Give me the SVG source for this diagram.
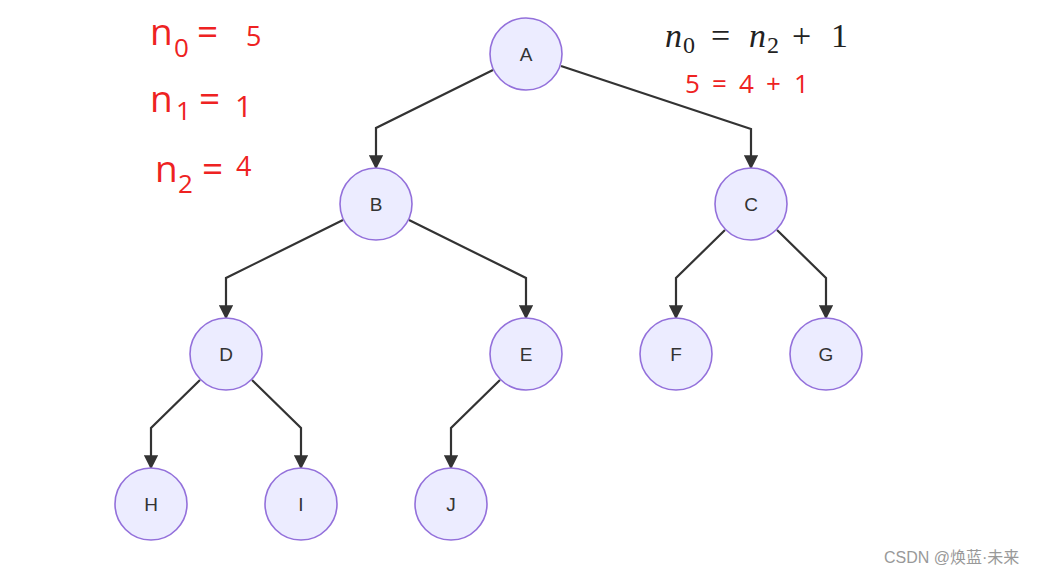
<svg xmlns="http://www.w3.org/2000/svg" width="1063" height="577" viewBox="0 0 1063 577">
<style>
.node circle{fill:#ECECFF;stroke:#9370DB;stroke-width:1.6}
.node text{font-family:"Liberation Sans",Arial,sans-serif;font-size:19px;fill:#333;text-anchor:middle;dominant-baseline:central}
.edge{fill:none;stroke:#333;stroke-width:2.2}
.red{font-family:"Open Sans","Noto Sans",sans-serif;fill:#ee2222}
.math{font-family:"Liberation Serif","Times New Roman",serif;fill:#222}
.wm{font-family:"Liberation Sans","Noto Sans CJK SC",sans-serif;font-size:16px;fill:#999}
</style>
<defs>
<marker id="arr" viewBox="0 0 10 10" refX="9" refY="5" markerWidth="6.5" markerHeight="6.5" markerUnits="strokeWidth" orient="auto">
<path d="M0,0 L10,5 L0,10 z" fill="#333"/>
</marker>
</defs>
<rect width="1063" height="577" fill="#fff"/>
<g id="connectors">
<path class="edge" marker-end="url(#arr)" d="M493,70 L376,128 L376,168"/>
<path class="edge" marker-end="url(#arr)" d="M561,66 L751,129 L751,168"/>
<path class="edge" marker-end="url(#arr)" d="M343,220 L226,278 L226,318"/>
<path class="edge" marker-end="url(#arr)" d="M409,220 L526,278 L526,318"/>
<path class="edge" marker-end="url(#arr)" d="M725,230 L676,278 L676,318"/>
<path class="edge" marker-end="url(#arr)" d="M777,230 L826,278 L826,318"/>
<path class="edge" marker-end="url(#arr)" d="M200,380 L151,428 L151,468"/>
<path class="edge" marker-end="url(#arr)" d="M252,380 L301,428 L301,468"/>
<path class="edge" marker-end="url(#arr)" d="M500,380 L451,428 L451,468"/>
</g>
<g id="A" class="node"><circle cx="526" cy="54" r="36"/><text x="526" y="54">A</text></g>
<g id="B" class="node"><circle cx="376" cy="204" r="36"/><text x="376" y="204">B</text></g>
<g id="C" class="node"><circle cx="751" cy="204" r="36"/><text x="751" y="204">C</text></g>
<g id="D" class="node"><circle cx="226" cy="354" r="36"/><text x="226" y="354">D</text></g>
<g id="E" class="node"><circle cx="526" cy="354" r="36"/><text x="526" y="354">E</text></g>
<g id="F" class="node"><circle cx="676" cy="354" r="36"/><text x="676" y="354">F</text></g>
<g id="G" class="node"><circle cx="826" cy="354" r="36"/><text x="826" y="354">G</text></g>
<g id="H" class="node"><circle cx="151" cy="504" r="36"/><text x="151" y="504">H</text></g>
<g id="I" class="node"><circle cx="301" cy="504" r="36"/><text x="301" y="504">I</text></g>
<g id="J" class="node"><circle cx="451" cy="504" r="36"/><text x="451" y="504">J</text></g>
<g id="labels">
<text class="red" font-size="37"><tspan x="150" y="45">n</tspan><tspan x="174" y="57" font-size="26">0</tspan><tspan x="197" y="45">=</tspan><tspan x="246" y="46" font-size="27">5</tspan></text>
<text class="red" font-size="37"><tspan x="150" y="112">n</tspan><tspan x="176" y="120" font-size="26">1</tspan><tspan x="199" y="112">=</tspan><tspan x="235" y="117" font-size="30">1</tspan></text>
<text class="red" font-size="37"><tspan x="155" y="182">n</tspan><tspan x="178" y="193" font-size="26">2</tspan><tspan x="202" y="182">=</tspan><tspan x="236" y="176" font-size="27">4</tspan></text>
<text class="math" font-size="34"><tspan x="665" y="47" font-style="italic">n</tspan><tspan x="683" y="53" font-size="24">0</tspan><tspan x="711" y="47">=</tspan><tspan x="749" y="47" font-style="italic">n</tspan><tspan x="767" y="53" font-size="24">2</tspan><tspan x="792" y="47">+</tspan><tspan x="831" y="47">1</tspan></text>
<text class="red" font-size="26"><tspan x="685" y="93">5</tspan><tspan x="712" y="93">=</tspan><tspan x="739" y="93">4</tspan><tspan x="766" y="93">+</tspan><tspan x="794" y="93">1</tspan></text>
<text class="wm" x="884" y="563">CSDN @焕蓝·未来</text>
</g>
</svg>
